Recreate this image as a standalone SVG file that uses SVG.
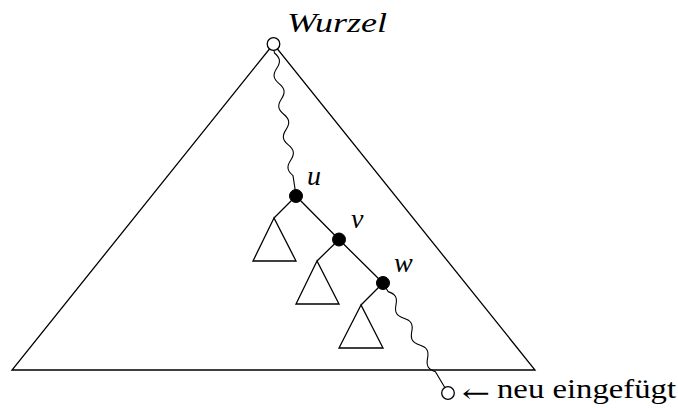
<svg xmlns="http://www.w3.org/2000/svg" width="678" height="408" viewBox="0 0 678 408">
<defs>
<path id="wave3" d="M0,0 L10,0 c5.6,-5.1 9.9,-5.1 15.5,0 c5.6,5.1 9.9,5.1 15.5,0 c5.6,-5.1 9.9,-5.1 15.5,0 c5.6,5.1 9.9,5.1 15.5,0 c5.6,-5.1 9.9,-5.1 15.5,0 c5.6,5.1 9.9,5.1 15.5,0 L127.8,0"/>
</defs>
<style>
.ln{fill:none;stroke:#000;stroke-width:1.3}
.wv{fill:none;stroke:#000;stroke-width:1.1}
.open{fill:#fff;stroke:#000;stroke-width:1.3}
.full{fill:#000;stroke:#000;stroke-width:1}
.mi{font-family:Liberation Serif,DejaVu Serif,serif;font-style:italic;font-size:28px}
.rm{font-family:Liberation Serif,DejaVu Serif,serif;font-size:28px}
</style>
<rect width="678" height="408" fill="#fff"/>
<g id="big-tree"><path class="ln" d="M273.5,44 L12,370 L535,370 Z"/></g>
<g id="connectors">
<g transform="translate(274,50) rotate(81.4)"><path class="wv" d="M0,0 L3,0 c5.6,-5.1 9.9,-5.1 15.5,0 c5.6,5.1 9.9,5.1 15.5,0 c5.6,-5.1 9.9,-5.1 15.5,0 c5.6,5.1 9.9,5.1 15.5,0 c5.6,-5.1 9.9,-5.1 15.5,0 c5.6,5.1 9.9,5.1 15.5,0 c5.6,-5.1 9.9,-5.1 15.5,0 c5.6,5.1 9.9,5.1 15.5,0 L147.6,0"/></g>
<path class="ln" d="M296,196 L339,239.5 L383,283"/>
<path class="ln" d="M296,196 L274,218"/>
<path class="ln" d="M339,239.5 L317,261"/>
<path class="ln" d="M383,283 L361,305"/>
<g transform="translate(383,283) rotate(59.4)"><use href="#wave3" class="wv"/></g>
</g>
<g id="sub1"><path class="ln" d="M274,218 L253,261 L296,261 Z"/></g>
<g id="sub2"><path class="ln" d="M317,261 L296,304 L339,304 Z"/></g>
<g id="sub3"><path class="ln" d="M361,305 L339,348 L383,348 Z"/></g>
<g id="root"><circle class="open" cx="273.5" cy="44" r="6.3"/><text class="mi" x="287" y="32" textLength="100" lengthAdjust="spacingAndGlyphs">Wurzel</text></g>
<g id="u"><circle class="full" cx="296" cy="196" r="6.5"/><text class="mi" x="307" y="185">u</text></g>
<g id="v"><circle class="full" cx="339" cy="239.5" r="6.5"/><text class="mi" x="351" y="228">v</text></g>
<g id="w"><circle class="full" cx="383" cy="283" r="6.5"/><text class="mi" x="394" y="272">w</text></g>
<g id="new"><circle class="open" cx="448" cy="393" r="6.3"/>
<text x="462" y="402" font-family="DejaVu Serif,serif" font-size="26" textLength="28" lengthAdjust="spacingAndGlyphs">←</text>
<text class="rm" x="497" y="398" textLength="179" lengthAdjust="spacingAndGlyphs">neu eingefügt</text></g>
</svg>
